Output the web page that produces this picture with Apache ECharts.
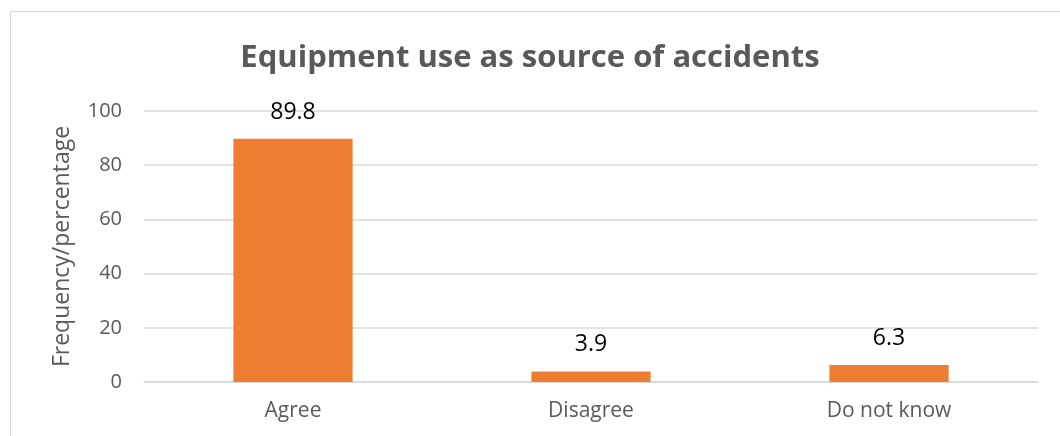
<!DOCTYPE html>
<html>
<head>
<meta charset="utf-8">
<script src="https://cdn.jsdelivr.net/npm/echarts@6/dist/echarts.min.js"></script>
<style>
  html, body { margin: 0; padding: 0; background: #fff; }
  #frame { position: absolute; left: 10px; top: 11px; width: 1060px; height: 440px;
           border-left: 1.5px solid #d9d9d9; border-top: 1.5px solid #d9d9d9; box-sizing: border-box; }
  #chart { position: absolute; left: 0; top: 0; width: 1060px; height: 436px; }
</style>
</head>
<body>
<div id="frame"></div>
<div id="chart"></div>
<script>
// Survey responses (percent of respondents)
const categories = ['Agree', 'Disagree', 'Do not know'];
const values = [89.8, 3.9, 6.3];
const yTicks = { min: 0, max: 100, interval: 20 };

const chart = echarts.init(document.getElementById('chart'), null, { renderer: 'canvas' });
const font = 'Open Sans';

chart.setOption({
  animation: false,
  title: {
    text: 'Equipment use as source of accidents',
    left: 'center',
    top: 38,
    textStyle: { fontFamily: font, fontWeight: 'bold', fontSize: 31, color: '#595959' }
  },
  grid: { left: 144, right: 22, top: 111, bottom: 54, containLabel: false },
  xAxis: {
    type: 'category',
    data: categories,
    axisLine: { lineStyle: { color: '#d9d9d9', width: 1.5 } },
    axisTick: { show: false },
    axisLabel: { margin: 19, fontFamily: font, fontSize: 21, color: '#595959' }
  },
  yAxis: {
    type: 'value',
    min: yTicks.min, max: yTicks.max, interval: yTicks.interval,
    name: 'Frequency/percentage',
    nameLocation: 'middle',
    nameGap: 70,
    nameRotate: 90,
    nameTextStyle: { fontFamily: font, fontSize: 23, color: '#595959' },
    axisLine: { show: false },
    axisTick: { show: false },
    axisLabel: { margin: 22, fontFamily: font, fontSize: 20, color: '#595959' },
    splitLine: { lineStyle: { color: '#d9d9d9', width: 1.5 } }
  },
  series: [{
    type: 'bar',
    data: values,
    barWidth: '40%',
    itemStyle: { color: '#ED7D31' },
    label: {
      show: true,
      position: 'top',
      distance: 15,
      fontFamily: font,
      fontSize: 23,
      color: '#000'
    }
  }]
});
</script>
</body>
</html>
